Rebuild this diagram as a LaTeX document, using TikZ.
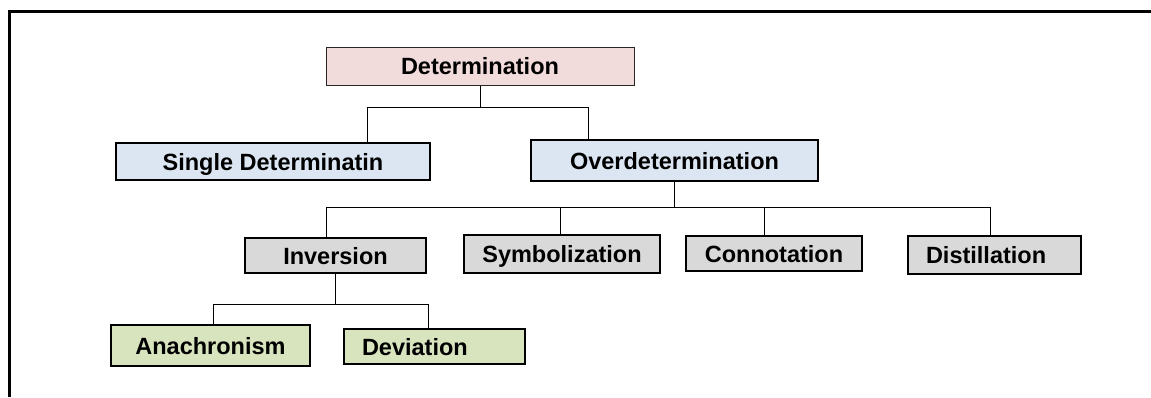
\documentclass[tikz,border=0pt]{standalone}
\usepackage{fontspec}
\setmainfont{Liberation Sans}
\definecolor{detpink}{HTML}{F2DCDB}
\definecolor{levblue}{HTML}{DCE6F2}
\definecolor{levgray}{HTML}{D9D9D9}
\definecolor{levgreen}{HTML}{D7E4BD}
\newcommand{\boxw}{2.6pt}

\begin{document}
\begin{tikzpicture}[x=1pt,y=-1pt,
        font=\fontsize{23.5}{28}\selectfont\bfseries,
        rootbox/.style={draw=black!85, line width=1pt, fill=detpink, inner sep=0pt, text depth=0pt},
        termbox/.style={draw, line width=\boxw, inner sep=0pt, text depth=0pt},
        leftbox/.style={inner xsep=18pt, text width=#1, align=left},
        link/.style={line width=0.9pt}]
        \useasboundingbox (0,0) rectangle (1151,397);
        \draw[line width=3pt] (9,397) -- (9,11) -- (1151,11);
        %\draw[help lines, step=50] (0,0) grid (1151,397);
        \begin{scope}
            \node[rootbox, minimum width=308pt, minimum height=38pt] (det) at (480,66) {Determination};
            \node[termbox, fill=levblue, minimum width=314pt, minimum height=37pt] (single) at (273,161.5) {Single Determinatin};
            \node[termbox, fill=levblue, minimum width=287pt, minimum height=41pt] (over) at (674.5,160.5) {Overdetermination};
            \node[termbox, fill=levgray, minimum width=181pt, minimum height=35pt] (inv) at (335.5,255.5) {Inversion};
            \node[termbox, fill=levgray, minimum width=196pt, minimum height=38pt] (sym) at (562,254) {Symbolization};
            \node[termbox, fill=levgray, minimum width=176pt, minimum height=35pt] (conn) at (774,253.5) {Connotation};
            \node[termbox, fill=levgray, leftbox=137pt, minimum height=38pt] (dist) at (994.5,255) {Distillation};
            \node[termbox, fill=levgreen, minimum width=199pt, minimum height=41pt] (anach) at (210.5,345.5) {Anachronism};
            \node[termbox, fill=levgreen, leftbox=145pt, minimum height=35pt] (dev) at (434.5,346.5) {Deviation};
        \end{scope}
        \begin{scope}[link]
            \coordinate (detl) at (367,107); \coordinate (detr) at (588,107);
            \draw (det.south) -- (det.south |- detl);
            \draw (detl |- single.north) -- (detl) -- (detr) -- (detr |- over.north);
            \coordinate (overl) at (326,207); \coordinate (overr) at (990,207);
            \draw (over.south) -- (over.south |- overl);
            \draw (overl |- inv.north) -- (overl) -- (overr) -- (overr |- dist.north);
            \draw (560,207) -- (560,207 |- sym.north);
            \draw (764,207) -- (764,207 |- conn.north);
            \coordinate (invl) at (213,304); \coordinate (invr) at (428,304);
            \draw (inv.south) -- (inv.south |- invl);
            \draw (invl |- anach.north) -- (invl) -- (invr) -- (invr |- dev.north);
        \end{scope}
    \end{tikzpicture}
\end{document}
